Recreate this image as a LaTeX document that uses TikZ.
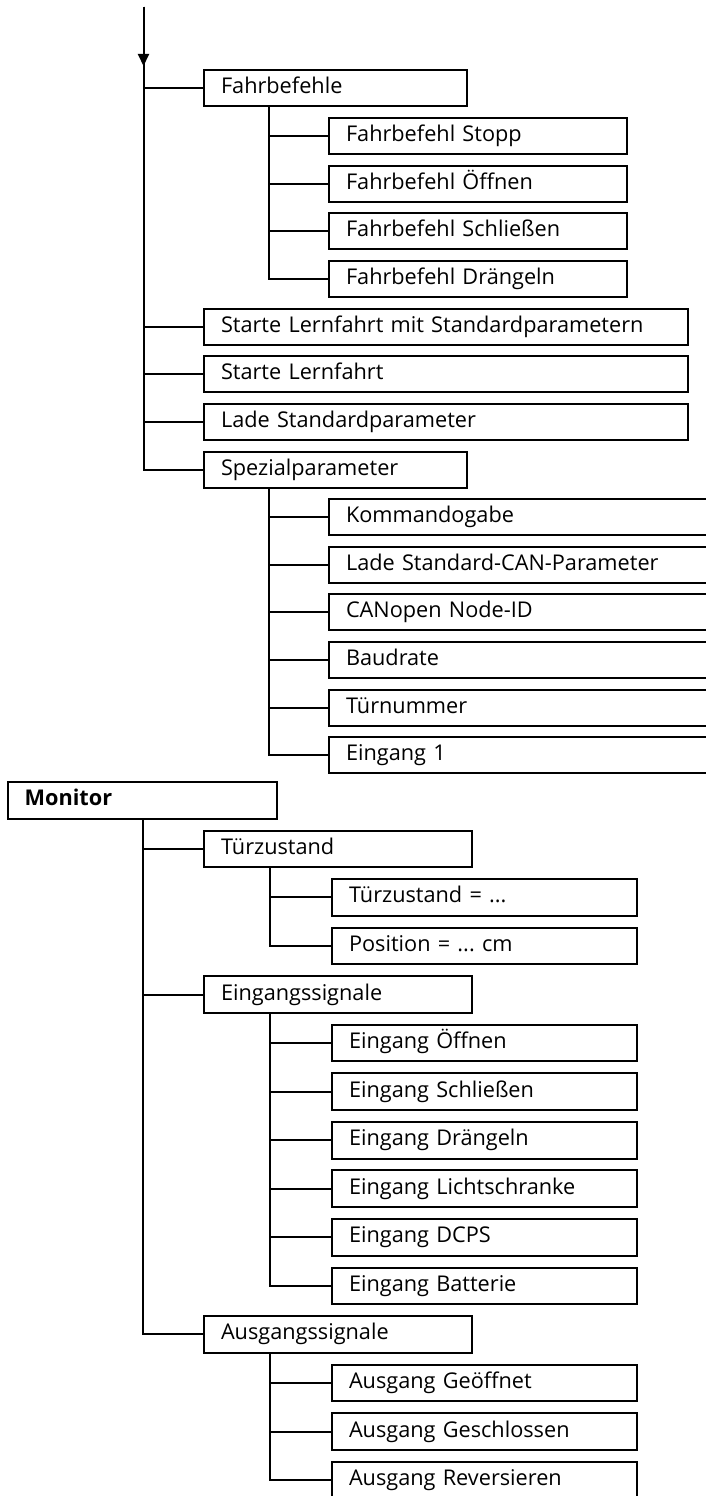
\documentclass[tikz,border=0pt]{standalone}
\usepackage{fontspec}
\setmainfont{Open Sans}
\usetikzlibrary{arrows.meta}
\frenchspacing
\begin{document}
\begin{tikzpicture}[x=1pt, y=-1pt,
  line width=2pt,
  every node/.style={font=\fontsize{21.7}{26}\selectfont},
  % menu entry box, placed by its upper left corner
  item/.style={draw, anchor=north west, minimum height=36pt,
    inner xsep=17pt, inner ysep=0pt,
    text height=16pt, text depth=5pt, align=left},
  mitem/.style={item, minimum height=36.6pt},
  link/.style={draw, line width=2pt}
]
\useasboundingbox (0,0) rectangle (706,1496);
\fill[white] (0,0) rectangle (706,1496);
\clip (0,0) rectangle (706,1496);

% ---------- command menu ----------
\node[item, text width=228.5pt] (fahr)   at (203,69.3)   {Fahrbefehle};
\node[item, text width=264pt]   (stopp)  at (328,116.95) {Fahrbefehl Stopp};
\node[item, text width=264pt]   (oeff)   at (328,164.6)  {Fahrbefehl Öffnen};
\node[item, text width=264pt]   (schl)   at (328,212.25) {Fahrbefehl Schließen};
\node[item, text width=264pt]   (draeng) at (328,259.9)  {Fahrbefehl Drängeln};
\node[item, text width=450pt]   (lernsp) at (203,307.55) {Starte Lernfahrt mit Standardparametern};
\node[item, text width=450pt]   (lern)   at (203,355.2)  {Starte Lernfahrt};
\node[item, text width=450pt]   (ladesp) at (203,402.85) {Lade Standardparameter};
\node[item, text width=228.5pt] (spez)   at (203,450.5)  {Spezialparameter};
\node[item, text width=386pt]   (kmd)    at (328,498.15) {Kommandogabe};
\node[item, text width=386pt]   (ladecan) at (328,545.8) {Lade Standard-CAN-Parameter};
\node[item, text width=386pt]   (nodeid) at (328,593.45) {CANopen Node-ID};
\node[item, text width=386pt]   (baud)   at (328,641.1)  {Baudrate};
\node[item, text width=386pt]   (tuernr) at (328,688.75) {Türnummer};
\node[item, text width=386pt]   (ein1)   at (328,736.4)  {Eingang 1};

\coordinate (start) at (143.5,6.7);
\coordinate (tip)   at (143.5,66);
\coordinate (fbus)  at (269,0);

\draw[-{Triangle[length=12pt,width=11pt]}] (start) -- (tip);
\draw[link] (start) |- (spez.west);
\foreach \n in {fahr,lernsp,lern,ladesp}
  \draw[link] (start |- \n.west) -- (\n.west);

\draw[link] (fahr.south -| fbus) |- (draeng.west);
\foreach \n in {stopp,oeff,schl}
  \draw[link] (fbus |- \n.west) -- (\n.west);

\draw[link] (spez.south -| fbus) |- (ein1.west);
\foreach \n in {kmd,ladecan,nodeid,baud,tuernr}
  \draw[link] (fbus |- \n.west) -- (\n.west);

% ---------- monitor menu ----------
\node[mitem, text width=235pt] (monitor) at (6.7,781) {\textbf{Monitor}};
\node[mitem, text width=234pt] (tz)     at (203,829.56)  {Türzustand};
\node[mitem, text width=271pt] (tzval)  at (331,878.12)  {Türzustand = ...};
\node[mitem, text width=271pt] (pos)    at (331,926.68)  {Position = ... cm};
\node[mitem, text width=234pt] (eing)   at (203,975.24)  {Eingangssignale};
\node[mitem, text width=271pt] (eoeff)  at (331,1023.8)  {Eingang Öffnen};
\node[mitem, text width=271pt] (eschl)  at (331,1072.36) {Eingang Schließen};
\node[mitem, text width=271pt] (edraeng) at (331,1120.92) {Eingang Drängeln};
\node[mitem, text width=271pt] (elicht) at (331,1169.48) {Eingang Lichtschranke};
\node[mitem, text width=271pt] (edcps)  at (331,1218.04) {Eingang DCPS};
\node[mitem, text width=271pt] (ebatt)  at (331,1266.6)  {Eingang Batterie};
\node[mitem, text width=234pt] (ausg)   at (203,1315.16) {Ausgangssignale};
\node[mitem, text width=271pt] (aoeff)  at (331,1363.72) {Ausgang Geöffnet};
\node[mitem, text width=271pt] (aschl)  at (331,1412.28) {Ausgang Geschlossen};
\node[mitem, text width=271pt] (arev)   at (331,1460.84) {Ausgang Reversieren};

\coordinate (mbus)  at (142.7,0);
\coordinate (mbus2) at (270.3,0);

\draw[link] (monitor.south -| mbus) |- (ausg.west);
\foreach \n in {tz,eing}
  \draw[link] (mbus |- \n.west) -- (\n.west);

\draw[link] (tz.south -| mbus2) |- (pos.west);
\draw[link] (mbus2 |- tzval.west) -- (tzval.west);

\draw[link] (eing.south -| mbus2) |- (ebatt.west);
\foreach \n in {eoeff,eschl,edraeng,elicht,edcps}
  \draw[link] (mbus2 |- \n.west) -- (\n.west);

\draw[link] (ausg.south -| mbus2) |- (arev.west);
\foreach \n in {aoeff,aschl}
  \draw[link] (mbus2 |- \n.west) -- (\n.west);
\end{tikzpicture}
\end{document}
